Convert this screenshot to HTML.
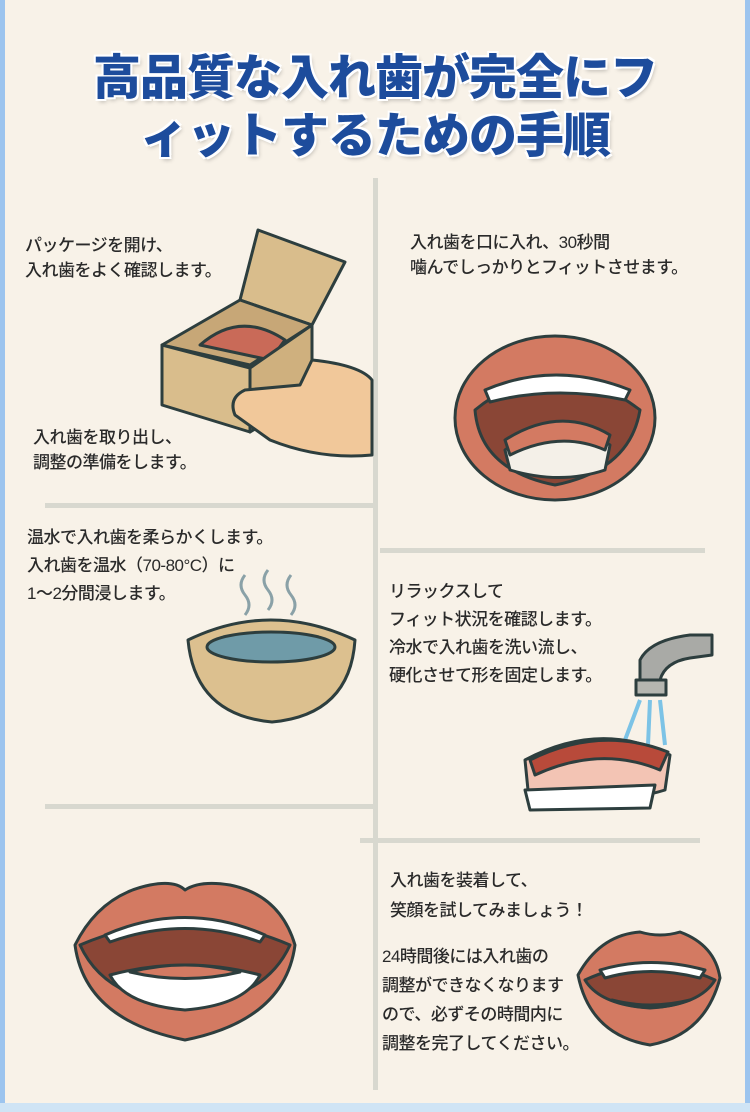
<!DOCTYPE html>
<html><head><meta charset="utf-8"><style>
*{margin:0;padding:0}
body{width:750px;height:1112px;overflow:hidden;background:#9cc4ee;position:relative;font-family:"Liberation Sans","Noto Sans CJK JP",sans-serif}
#pg{position:absolute;left:5px;top:0;width:740px;height:1103px;background:#f8f2e8}
#bot{position:absolute;left:0;top:1103px;width:750px;height:9px;background:#cfe4f5}
.t{position:absolute;left:0;width:750px;text-align:center;font-weight:900;color:#1d4c9c;font-size:48px;letter-spacing:-1px;text-shadow:0 0 3px #fff,2px 2px 0 #fff,-2px -2px 0 #fff,2px -2px 0 #fff,-2px 2px 0 #fff,2px 3px 4px rgba(0,0,0,.25)}
.p{position:absolute;font-size:17px;line-height:25px;color:#2a2a2a;font-weight:500;letter-spacing:-0.5px}
.ln{position:absolute;background:#d8d8cf}
svg{position:absolute;left:0;top:0}
</style></head><body>
<div id="pg"></div><div id="bot"></div>
<div class="t" style="top:38px">高品質な入れ歯が完全にフ</div>
<div class="t" style="top:96px">ィットするための手順</div>
<div class="ln" style="left:373px;top:178px;width:5px;height:912px"></div>
<div class="ln" style="left:45px;top:503px;width:328px;height:5px"></div>
<div class="ln" style="left:380px;top:548px;width:325px;height:5px"></div>
<div class="ln" style="left:45px;top:804px;width:328px;height:5px"></div>
<div class="ln" style="left:360px;top:838px;width:340px;height:5px"></div>
<svg width="750" height="1112" viewBox="0 0 750 1112">
<g stroke="#2d3e3e" stroke-width="3" stroke-linejoin="round">
<!-- box -->
<path d="M240 300 L258 230 L345 262 L312 325Z" fill="#d9bd8c"/>
<path d="M162 345 L240 300 L312 325 L250 365Z" fill="#c7a777"/>
<path d="M200 345 Q240 310 285 340 L270 360Z" fill="#c96a58"/>
<path d="M162 345 L250 368 L250 432 L162 405Z" fill="#d9bd8c"/>
<path d="M250 368 L312 325 L312 395 L250 432Z" fill="#cfb07e"/>
<path d="M312 360 Q360 365 372 380 L372 455 Q320 460 270 440 L235 415 Q228 398 245 390 L300 385Z" fill="#f1c89a"/>
<!-- mouth top right -->
<ellipse cx="555" cy="418" rx="100" ry="82" fill="#d37a62"/>
<path d="M475 410 Q555 345 640 410 Q630 470 555 485 Q480 470 475 410Z" fill="#8a4636"/>
<path d="M485 390 Q555 360 630 390 L625 400 Q555 385 490 402Z" fill="#fff"/>
<path d="M505 450 Q560 410 610 445 L605 470 Q560 485 510 470Z" fill="#f4f0e8"/>
<path d="M505 440 Q560 405 610 435 L605 450 Q560 430 510 455Z" fill="#d37a62"/>
<!-- bowl -->
<path d="M188 640 Q270 600 355 640 Q350 715 272 722 Q195 715 188 640Z" fill="#dcc08f"/>
<ellipse cx="271" cy="647" rx="64" ry="15" fill="#6f9ba8"/>
<path d="M245 575 q-8 10 0 20 q8 10 0 20 M268 570 q-8 10 0 20 q8 10 0 20 M291 575 q-8 10 0 20 q8 10 0 20" fill="none" stroke="#8aa1a7"/>
<!-- faucet -->
<path d="M640 680 L640 660 Q650 640 690 635 L712 635 L712 655 L690 658 Q665 662 660 680Z" fill="#a9aaa6"/>
<rect x="636" y="680" width="30" height="15" fill="#b5b6b0"/>
<path d="M640 700 L625 740 M650 700 L648 745 M660 700 L665 745" stroke="#7cc3e6" stroke-width="4"/>
<!-- denture -->
<path d="M525 760 Q600 720 670 755 L665 790 Q600 810 528 790Z" fill="#f3c4b4"/>
<path d="M530 760 Q600 725 668 752 L660 770 Q600 745 535 775Z" fill="#b84a3a"/>
<path d="M525 790 L530 810 L650 808 L655 785Z" fill="#fff"/>
<!-- mouth bottom left -->
<path d="M75 945 Q100 895 150 885 Q175 880 185 890 Q200 880 230 885 Q280 895 295 945 Q285 1020 185 1040 Q85 1020 75 945Z" fill="#d37a62"/>
<path d="M80 945 Q185 900 290 945 Q265 1000 185 1005 Q105 1000 80 945Z" fill="#8a4636"/>
<path d="M105 935 Q185 900 265 935 L260 942 Q185 915 110 942Z" fill="#fff"/>
<path d="M110 975 Q185 955 260 975 Q245 1005 185 1010 Q125 1005 110 975Z" fill="#fff"/>
<path d="M130 972 Q185 958 240 972 Q185 985 130 972Z" fill="#d37a62"/>
<!-- small mouth -->
<path d="M578 975 Q600 935 640 932 Q660 938 680 932 Q715 945 720 978 Q705 1035 650 1045 Q590 1035 578 975Z" fill="#d37a62"/>
<path d="M585 980 Q650 950 715 980 Q700 1005 650 1008 Q600 1005 585 980Z" fill="#8a4636"/>
<path d="M600 970 Q650 955 705 970 L700 978 Q650 965 605 978Z" fill="#fff"/>
<path d="M612 1000 Q650 1015 690 1000 Q650 1010 612 1000Z" fill="#fff"/>
</g>
</svg>
<div class="p" style="left:25px;top:233px">パッケージを開け、<br>入れ歯をよく確認します。</div>
<div class="p" style="left:33px;top:425px">入れ歯を取り出し、<br>調整の準備をします。</div>
<div class="p" style="left:410px;top:230px">入れ歯を口に入れ、30秒間<br>噛んでしっかりとフィットさせます。</div>
<div class="p" style="left:27px;top:524px;line-height:28px">温水で入れ歯を柔らかくします。<br>入れ歯を温水（70-80°C）に<br>1〜2分間浸します。</div>
<div class="p" style="left:389px;top:578px;line-height:28px">リラックスして<br>フィット状況を確認します。<br>冷水で入れ歯を洗い流し、<br>硬化させて形を固定します。</div>
<div class="p" style="left:390px;top:866px;line-height:30px">入れ歯を装着して、<br>笑顔を試してみましょう！</div>
<div class="p" style="left:382px;top:942px;line-height:29px">24時間後には入れ歯の<br>調整ができなくなります<br>ので、必ずその時間内に<br>調整を完了してください。</div>
</body></html>
